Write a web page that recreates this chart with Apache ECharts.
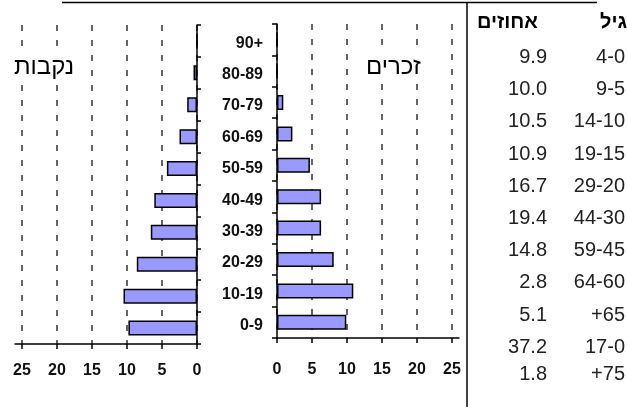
<!DOCTYPE html>
<html>
<head>
<meta charset="utf-8">
<script src="https://cdn.jsdelivr.net/npm/echarts@6/dist/echarts.min.js"></script>
<style>
html,body{margin:0;padding:0;background:#fff;}
#c{width:627px;height:407px;}
</style>
</head>
<body>
<div id="c"></div>
<script>
// ---- data ----
var categories = ['0-9','10-19','20-29','30-39','40-49','50-59','60-69','70-79','80-89','90+'];
var femaleValues = [9.8, 10.5, 8.6, 6.6, 6.1, 4.3, 2.5, 1.4, 0.5, 0];
var maleValues = [9.9, 10.9, 8.1, 6.3, 6.3, 4.7, 2.2, 0.9, 0, 0];
var xTickValues = [0, 5, 10, 15, 20, 25];
var femaleTitle = 'נקבות';
var maleTitle = 'זכרים';
var tableHeaderAge = 'גיל';
var tableHeaderPct = 'אחוזים';
var tableAges = ['4-0','9-5','14-10','19-15','29-20','44-30','59-45','64-60','+65','17-0','+75'];
var tablePercents = ['9.9','10.0','10.5','10.9','16.7','19.4','14.8','2.8','5.1','37.2','1.8'];

// ---- layout ----
var FONT = '"Liberation Sans", Arial, sans-serif';
var rowY = [57, 89, 121, 154, 186, 218, 250, 282, 315, 347, 374];
var headerY = 22;
var pctRight = 547;
var ageRight = 625;
var TABLE_SIZE = 20;

var graphics = [
  {type:'line', shape:{x1:62, y1:2.5, x2:597, y2:2.5}, style:{stroke:'#000', lineWidth:1.5}, z:10},
  {type:'line', shape:{x1:467, y1:2.5, x2:467, y2:407}, style:{stroke:'#000', lineWidth:1.5}, z:10},
  {type:'text', x:ageRight + 2, y:headerY, style:{text:tableHeaderAge, font:'bold ' + TABLE_SIZE + 'px ' + FONT, fill:'#000', textAlign:'right', textVerticalAlign:'middle', align:'right', verticalAlign:'middle'}, z:10},
  {type:'text', x:538, y:headerY, style:{text:tableHeaderPct, font:'bold ' + TABLE_SIZE + 'px ' + FONT, fill:'#000', textAlign:'right', textVerticalAlign:'middle', align:'right', verticalAlign:'middle'}, z:10}
];
for (var i = 0; i < tableAges.length; i++) {
  graphics.push({type:'text', x:ageRight, y:rowY[i], style:{text:tableAges[i], font:TABLE_SIZE + 'px ' + FONT, fill:'#222', textAlign:'right', textVerticalAlign:'middle', align:'right', verticalAlign:'middle'}, z:10});
  graphics.push({type:'text', x:pctRight, y:rowY[i], style:{text:tablePercents[i], font:TABLE_SIZE + 'px ' + FONT, fill:'#222', textAlign:'right', textVerticalAlign:'middle', align:'right', verticalAlign:'middle'}, z:10});
}

var axisLineStyle = {color:'#000', width:1.5};
var splitStyle = {type:[6,9], color:'#333', width:1.5};

var option = {
  animation: false,
  backgroundColor: '#fff',
  textStyle: {fontFamily: FONT},
  title: [
    {text: femaleTitle, left: 12, top: 52, padding: [3, 2], backgroundColor: '#fff', textStyle: {fontSize: 24, fontWeight: 'normal', color: '#000', fontFamily: FONT}, z: 8},
    {text: maleTitle, left: 364, top: 52, padding: [3, 2], backgroundColor: '#fff', textStyle: {fontSize: 24, fontWeight: 'normal', color: '#000', fontFamily: FONT}, z: 8}
  ],
  grid: [
    {left: 15, width: 182, top: 25, height: 319},
    {left: 277, width: 182, top: 24, height: 314}
  ],
  xAxis: [
    {gridIndex: 0, type: 'value', inverse: true, min: 0, max: 26,
     axisLine: {show: true, lineStyle: axisLineStyle},
     axisTick: {show: true, length: 5, customValues: xTickValues, lineStyle: {color:'#000', width:1.5}},
     axisLabel: {customValues: xTickValues, fontSize: 16, fontWeight: 'bold', color: '#111', margin: 19, fontFamily: FONT},
     splitLine: {show: true, lineStyle: splitStyle}},
    {gridIndex: 1, type: 'value', min: 0, max: 26,
     axisLine: {show: true, lineStyle: axisLineStyle},
     axisTick: {show: true, length: 5, customValues: xTickValues, lineStyle: {color:'#000', width:1.5}},
     axisLabel: {customValues: xTickValues, fontSize: 16, fontWeight: 'bold', color: '#111', margin: 24, fontFamily: FONT},
     splitLine: {show: true, lineStyle: splitStyle}}
  ],
  yAxis: [
    {gridIndex: 0, type: 'category', data: categories, position: 'right',
     axisLine: {show: true, lineStyle: axisLineStyle},
     axisTick: {show: true, length: 4, lineStyle: {color:'#000', width:1.5}},
     axisLabel: {show: false},
     splitLine: {show: false}},
    {gridIndex: 1, type: 'category', data: categories, position: 'left',
     axisLine: {show: true, lineStyle: axisLineStyle},
     axisTick: {show: true, length: 5, lineStyle: {color:'#000', width:1.5}},
     axisLabel: {margin: 14,
       formatter: function (v) { return '{c|' + v + '}'; },
       rich: {c: {fontSize: 16, fontWeight: 'bold', color: '#111', fontFamily: FONT, padding: [7, 0, 0, 0]}}},
     splitLine: {show: false}}
  ],
  series: [
    {type: 'bar', xAxisIndex: 0, yAxisIndex: 0, data: femaleValues, barWidth: 15,
     itemStyle: {color: '#9999FF', borderColor: '#000', borderWidth: 1.5}},
    {type: 'bar', xAxisIndex: 1, yAxisIndex: 1, data: maleValues, barWidth: 15,
     itemStyle: {color: '#9999FF', borderColor: '#000', borderWidth: 1.5}}
  ],
  graphic: graphics
};

var chart = echarts.init(document.getElementById('c'), null, {renderer: 'canvas'});
chart.setOption(option);
</script>
</body>
</html>
